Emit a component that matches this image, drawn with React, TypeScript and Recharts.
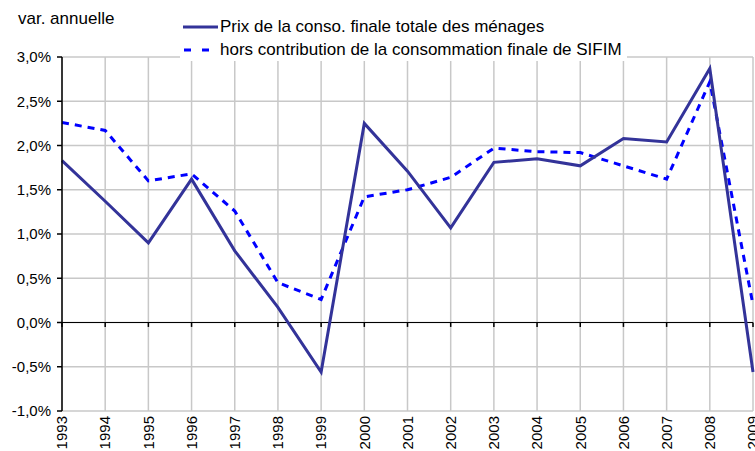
import { CartesianGrid, Line, LineChart, ReferenceLine, XAxis, YAxis } from "recharts"

// années
const years = [
  "1993", "1994", "1995", "1996", "1997", "1998", "1999", "2000", "2001",
  "2002", "2003", "2004", "2005", "2006", "2007", "2008", "2009",
]

// Prix de la conso. finale totale des ménages (var. annuelle, %)
const prixConso = [
  1.83, 1.37, 0.9, 1.62, 0.81, 0.17, -0.56, 2.25, 1.71,
  1.07, 1.81, 1.85, 1.77, 2.08, 2.04, 2.87, -0.56,
]

// hors contribution de la consommation finale de SIFIM
const horsSifim = [
  2.26, 2.17, 1.6, 1.68, 1.26, 0.45, 0.26, 1.42, 1.5,
  1.64, 1.97, 1.93, 1.92, 1.77, 1.62, 2.72, 0.2,
]

const yTicks = [-1, -0.5, 0, 0.5, 1, 1.5, 2, 2.5, 3]

const seriesNames = [
  "Prix de la conso. finale totale des ménages",
  "hors contribution de la consommation finale de SIFIM",
]

const data = years.map((year, i) => ({
  year,
  prix: prixConso[i],
  hors: horsSifim[i],
}))

const FONT = "'Liberation Sans', Arial, sans-serif"

function YearTick(props: any) {
  const { x, y, payload } = props
  return (
    <text
      x={x}
      y={y}
      transform={`rotate(-90, ${x}, ${y})`}
      textAnchor="end"
      dy="0.35em"
      fontSize={15}
      fontFamily={FONT}
      fill="#000"
    >
      {payload.value}
    </text>
  )
}

export default function App() {
  return (
    <div style={{ position: "absolute", left: 0, top: 0, width: 755, height: 451, background: "#fff" }}>
      <LineChart
        width={755}
        height={451}
        data={data}
        margin={{ top: 57, right: 2, bottom: 0, left: 0 }}
      >
        <CartesianGrid stroke="#c8c8c8" strokeWidth={1.5} />
        <XAxis
          dataKey="year"
          interval={0}
          axisLine={false}
          tickLine={false}
          height={40}
          tick={<YearTick />}
          tickSize={0}
          tickMargin={5}
        />
        <YAxis
          width={62}
          domain={[-1, 3]}
          ticks={yTicks}
          interval={0}
          axisLine={{ stroke: "#000", strokeWidth: 1.5 }}
          tickLine={{ stroke: "#000", strokeWidth: 1.5 }}
          tickSize={5}
          tickMargin={6}
          tick={{ fontSize: 15, fontFamily: FONT, fill: "#000" }}
          tickFormatter={(v: number) => `${v.toFixed(1).replace(".", ",")}%`}
        />
        <ReferenceLine y={0} stroke="#000" strokeWidth={1.2} />
        {years.map((yr) => (
          <ReferenceLine
            key={yr}
            segment={[{ x: yr, y: 0 }, { x: yr, y: -0.05 }]}
            stroke="#000"
            strokeWidth={1.5}
          />
        ))}
        <Line
          dataKey="hors"
          stroke="#0000ff"
          strokeWidth={3}
          strokeDasharray="7 6"
          dot={false}
          isAnimationActive={false}
        />
        <Line
          dataKey="prix"
          stroke="#333399"
          strokeWidth={3}
          dot={false}
          isAnimationActive={false}
        />
      </LineChart>

      <div
        style={{
          position: "absolute",
          left: 18,
          top: 9,
          fontFamily: FONT,
          fontSize: 17,
          color: "#000",
        }}
      >
        var. annuelle
      </div>

      <div
        style={{
          position: "absolute",
          left: 180,
          top: 12,
          width: 447,
          height: 49,
          background: "#fff",
          fontFamily: FONT,
          fontSize: 17,
          color: "#000",
        }}
      >
        <div style={{ position: "absolute", left: 3, top: 5, display: "flex", alignItems: "center", whiteSpace: "nowrap" }}>
          <svg width={37} height={10}>
            <line x1={0} y1={5} x2={35} y2={5} stroke="#333399" strokeWidth={3} />
          </svg>
          <span>{seriesNames[0]}</span>
        </div>
        <div style={{ position: "absolute", left: 3, top: 28, display: "flex", alignItems: "center", whiteSpace: "nowrap" }}>
          <svg width={37} height={10}>
            <line x1={1} y1={5} x2={26} y2={5} stroke="#0000ff" strokeWidth={3} strokeDasharray="7 11" />
          </svg>
          <span>{seriesNames[1]}</span>
        </div>
      </div>
    </div>
  )
}
